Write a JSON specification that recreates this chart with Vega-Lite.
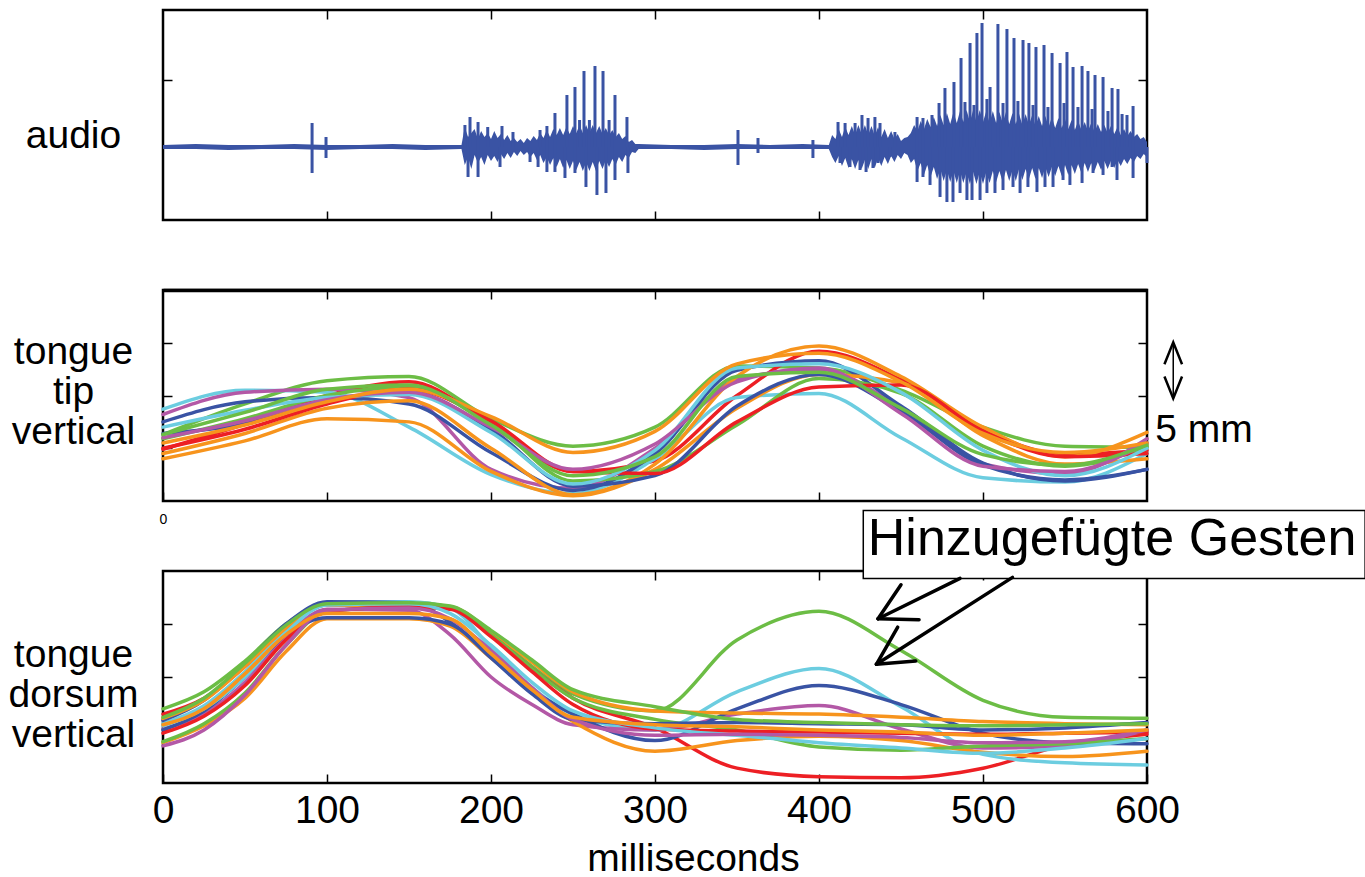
{
"$schema":"https://vega.github.io/schema/vega-lite/v6.json",
"padding":{"left":6,"top":8,"right":0,"bottom":0},
"bounds":"flush",
"spacing":70,
"config":{"font":"Liberation Sans","view":{"stroke":"black","strokeWidth":2.5},
"axis":{"grid":false,"domain":false,"tickColor":"black","tickWidth":1.5,"tickSize":-9,"labelColor":"black","titleColor":"black","titleFontWeight":"normal","titleFont":"Liberation Sans","labelFont":"Liberation Sans"}},
"datasets":{
"audioEnv":[
{"t":0,"lo":-2,"hi":2},{"t":20,"lo":-2,"hi":3},{"t":40,"lo":-3,"hi":2},{"t":60,"lo":-2,"hi":2},{"t":80,"lo":-2,"hi":3},{"t":100,"lo":-3,"hi":2},{"t":120,"lo":-2,"hi":2},{"t":140,"lo":-2,"hi":3},{"t":160,"lo":-3,"hi":2},{"t":182,"lo":-2,"hi":2},
{"t":184,"lo":-18,"hi":20},{"t":186,"lo":-10,"hi":10},{"t":188,"lo":-22,"hi":14},{"t":190,"lo":-8,"hi":18},{"t":192,"lo":-16,"hi":8},{"t":194,"lo":-10,"hi":16},{"t":196,"lo":-18,"hi":10},{"t":198,"lo":-8,"hi":14},{"t":200,"lo":-14,"hi":8},{"t":202,"lo":-9,"hi":16},{"t":204,"lo":-15,"hi":9},{"t":206,"lo":-7,"hi":13},{"t":208,"lo":-12,"hi":7},{"t":210,"lo":-6,"hi":12},{"t":212,"lo":-11,"hi":6},{"t":214,"lo":-5,"hi":9},{"t":216,"lo":-9,"hi":5},{"t":218,"lo":-4,"hi":8},{"t":220,"lo":-8,"hi":4},{"t":222,"lo":-5,"hi":9},{"t":224,"lo":-10,"hi":6},{"t":226,"lo":-6,"hi":11},{"t":228,"lo":-13,"hi":7},{"t":230,"lo":-8,"hi":14},{"t":232,"lo":-16,"hi":9},{"t":234,"lo":-10,"hi":17},{"t":236,"lo":-18,"hi":10},{"t":238,"lo":-11,"hi":18},{"t":240,"lo":-20,"hi":12},{"t":242,"lo":-12,"hi":19},{"t":244,"lo":-21,"hi":12},{"t":246,"lo":-13,"hi":20},{"t":248,"lo":-22,"hi":13},{"t":250,"lo":-14,"hi":21},{"t":252,"lo":-23,"hi":14},{"t":254,"lo":-15,"hi":22},{"t":256,"lo":-24,"hi":14},{"t":258,"lo":-15,"hi":22},{"t":260,"lo":-24,"hi":14},{"t":262,"lo":-15,"hi":22},{"t":264,"lo":-24,"hi":14},{"t":266,"lo":-14,"hi":21},{"t":268,"lo":-22,"hi":13},{"t":270,"lo":-13,"hi":19},{"t":272,"lo":-20,"hi":12},{"t":274,"lo":-12,"hi":17},{"t":276,"lo":-18,"hi":10},{"t":278,"lo":-10,"hi":14},{"t":280,"lo":-15,"hi":8},{"t":282,"lo":-8,"hi":11},{"t":284,"lo":-11,"hi":5},{"t":286,"lo":-5,"hi":7},{"t":288,"lo":-6,"hi":3},{"t":290,"lo":-2,"hi":3},
{"t":310,"lo":-2,"hi":2},{"t":330,"lo":-3,"hi":2},{"t":350,"lo":-2,"hi":3},{"t":370,"lo":-2,"hi":2},{"t":390,"lo":-2,"hi":3},{"t":406,"lo":-2,"hi":2},
{"t":408,"lo":-10,"hi":12},{"t":410,"lo":-16,"hi":8},{"t":412,"lo":-9,"hi":18},{"t":414,"lo":-19,"hi":10},{"t":416,"lo":-11,"hi":20},{"t":418,"lo":-21,"hi":12},{"t":420,"lo":-12,"hi":21},{"t":422,"lo":-22,"hi":12},{"t":424,"lo":-13,"hi":22},{"t":426,"lo":-22,"hi":13},{"t":428,"lo":-13,"hi":22},{"t":430,"lo":-22,"hi":12},{"t":432,"lo":-12,"hi":21},{"t":434,"lo":-21,"hi":11},{"t":436,"lo":-11,"hi":20},{"t":438,"lo":-19,"hi":10},{"t":440,"lo":-10,"hi":18},{"t":442,"lo":-17,"hi":9},{"t":444,"lo":-9,"hi":16},{"t":446,"lo":-15,"hi":8},{"t":448,"lo":-8,"hi":13},{"t":450,"lo":-12,"hi":6},{"t":452,"lo":-6,"hi":9},
{"t":454,"lo":-8,"hi":10},{"t":456,"lo":-16,"hi":14},{"t":458,"lo":-12,"hi":22},{"t":460,"lo":-24,"hi":16},{"t":462,"lo":-16,"hi":26},{"t":464,"lo":-28,"hi":18},{"t":466,"lo":-18,"hi":28},{"t":468,"lo":-30,"hi":20},{"t":470,"lo":-20,"hi":30},{"t":472,"lo":-32,"hi":21},{"t":474,"lo":-22,"hi":32},{"t":476,"lo":-34,"hi":22},{"t":478,"lo":-23,"hi":34},{"t":480,"lo":-35,"hi":23},{"t":482,"lo":-24,"hi":35},{"t":484,"lo":-36,"hi":24},{"t":486,"lo":-24,"hi":36},{"t":488,"lo":-36,"hi":25},{"t":490,"lo":-25,"hi":37},{"t":492,"lo":-37,"hi":25},{"t":494,"lo":-25,"hi":37},{"t":496,"lo":-37,"hi":25},{"t":498,"lo":-25,"hi":37},{"t":500,"lo":-37,"hi":25},{"t":502,"lo":-25,"hi":36},{"t":504,"lo":-36,"hi":24},{"t":506,"lo":-24,"hi":36},{"t":508,"lo":-35,"hi":24},{"t":510,"lo":-24,"hi":35},{"t":512,"lo":-35,"hi":24},{"t":514,"lo":-23,"hi":35},{"t":516,"lo":-34,"hi":23},{"t":518,"lo":-23,"hi":34},{"t":520,"lo":-34,"hi":23},{"t":522,"lo":-22,"hi":33},{"t":524,"lo":-33,"hi":22},{"t":526,"lo":-22,"hi":33},{"t":528,"lo":-32,"hi":22},{"t":530,"lo":-21,"hi":32},{"t":532,"lo":-32,"hi":21},{"t":534,"lo":-21,"hi":31},{"t":536,"lo":-31,"hi":21},{"t":538,"lo":-20,"hi":31},{"t":540,"lo":-30,"hi":20},{"t":542,"lo":-20,"hi":30},{"t":544,"lo":-29,"hi":19},{"t":546,"lo":-19,"hi":29},{"t":548,"lo":-29,"hi":19},{"t":550,"lo":-18,"hi":28},{"t":552,"lo":-28,"hi":18},{"t":554,"lo":-18,"hi":27},{"t":556,"lo":-27,"hi":17},{"t":558,"lo":-17,"hi":26},{"t":560,"lo":-26,"hi":17},{"t":562,"lo":-16,"hi":25},{"t":564,"lo":-25,"hi":16},{"t":566,"lo":-16,"hi":24},{"t":568,"lo":-24,"hi":15},{"t":570,"lo":-15,"hi":23},{"t":572,"lo":-23,"hi":15},{"t":574,"lo":-14,"hi":22},{"t":576,"lo":-22,"hi":14},{"t":578,"lo":-14,"hi":21},{"t":580,"lo":-21,"hi":13},{"t":582,"lo":-13,"hi":20},{"t":584,"lo":-19,"hi":12},{"t":586,"lo":-12,"hi":18},{"t":588,"lo":-17,"hi":11},{"t":590,"lo":-11,"hi":16},{"t":592,"lo":-15,"hi":10},{"t":594,"lo":-9,"hi":13},{"t":596,"lo":-12,"hi":8},{"t":598,"lo":-7,"hi":10},{"t":600,"lo":-10,"hi":5}],
"audioSpk":[
{"t":90.9,"a":24},{"t":90.9,"a":-26},{"t":99.4,"a":10},{"t":99.4,"a":-11},{"t":350.6,"a":17},{"t":350.6,"a":-18},{"t":362.8,"a":9},{"t":362.8,"a":-6},{"t":396.3,"a":7},{"t":396.3,"a":-11},
{"t":184.1,"a":22},{"t":187.2,"a":30},{"t":192.1,"a":25},{"t":198,"a":20},{"t":206.7,"a":21},{"t":213.4,"a":15},{"t":229.9,"a":17},{"t":234.1,"a":21},{"t":239,"a":34},{"t":246.3,"a":52},{"t":251.2,"a":60},{"t":254,"a":27},{"t":256.7,"a":76},{"t":260,"a":27},{"t":263.4,"a":81},{"t":268.3,"a":76},{"t":272,"a":27},{"t":275.6,"a":52},{"t":282.9,"a":30},
{"t":186,"a":-30},{"t":192.1,"a":-30},{"t":205.5,"a":-20},{"t":223.8,"a":-15},{"t":228.7,"a":-20},{"t":234.1,"a":-25},{"t":239,"a":-25},{"t":245.1,"a":-31},{"t":251.2,"a":-26},{"t":257.9,"a":-40},{"t":264.6,"a":-48},{"t":270.1,"a":-46},{"t":275.6,"a":-33},{"t":283.5,"a":-26},
{"t":411.6,"a":25},{"t":415.9,"a":24},{"t":422,"a":24},{"t":426.2,"a":32},{"t":429.9,"a":29},{"t":434.1,"a":30},{"t":437.2,"a":24},{"t":446.3,"a":15},
{"t":412.8,"a":-16},{"t":418.9,"a":-20},{"t":425,"a":-23},{"t":428.7,"a":-25},{"t":432.9,"a":-21},{"t":436,"a":-16},{"t":443.3,"a":-10},
{"t":459.8,"a":30},{"t":463.4,"a":29},{"t":468.9,"a":32},{"t":473.2,"a":44},{"t":476.8,"a":59},{"t":482.3,"a":65},{"t":486.6,"a":89},{"t":489,"a":45},{"t":492.1,"a":104},{"t":494.5,"a":42},{"t":496.3,"a":114},{"t":499.4,"a":124},{"t":502.4,"a":48},{"t":504.3,"a":60},{"t":509.1,"a":123},{"t":512.2,"a":44},{"t":514.6,"a":118},{"t":518.9,"a":109},{"t":521.3,"a":46},{"t":524.4,"a":107},{"t":528,"a":104},{"t":530.5,"a":42},{"t":532.3,"a":100},{"t":537.2,"a":102},{"t":539.6,"a":40},{"t":542.1,"a":94},{"t":547,"a":84},{"t":549.4,"a":44},{"t":551.2,"a":95},{"t":554.9,"a":80},{"t":557.9,"a":40},{"t":560.4,"a":81},{"t":564,"a":76},{"t":566.5,"a":38},{"t":568.3,"a":72},{"t":573.2,"a":70},{"t":576.2,"a":36},{"t":578.7,"a":59},{"t":582.3,"a":58},{"t":584.8,"a":33},{"t":587.8,"a":32},{"t":591.5,"a":41},
{"t":459.8,"a":-35},{"t":463.4,"a":-30},{"t":467.7,"a":-38},{"t":473.8,"a":-50},{"t":478,"a":-55},{"t":481.7,"a":-55},{"t":486,"a":-46},{"t":490.2,"a":-53},{"t":493.3,"a":-53},{"t":498.2,"a":-53},{"t":502.4,"a":-46},{"t":507.3,"a":-46},{"t":512.2,"a":-43},{"t":518.3,"a":-40},{"t":522.6,"a":-46},{"t":527.4,"a":-40},{"t":532.9,"a":-45},{"t":537.8,"a":-40},{"t":542.7,"a":-40},{"t":548.8,"a":-33},{"t":553,"a":-38},{"t":560.4,"a":-36},{"t":567.1,"a":-26},{"t":573.2,"a":-28},{"t":578.7,"a":-20},{"t":581.7,"a":-33},{"t":591.5,"a":-31},{"t":600,"a":-16}],
"tip":[
{"k":"T1","t":0,"v":6.3},{"k":"T1","t":50,"v":9.2},{"k":"T1","t":100,"v":11.4},{"k":"T1","t":150,"v":11.8},{"k":"T1","t":200,"v":7.8},{"k":"T1","t":250,"v":5.2},{"k":"T1","t":300,"v":7.0},{"k":"T1","t":350,"v":12.8},{"k":"T1","t":400,"v":12.6},{"k":"T1","t":450,"v":10.5},{"k":"T1","t":500,"v":7.0},{"k":"T1","t":550,"v":5.2},{"k":"T1","t":600,"v":5.1},
{"k":"T2","t":0,"v":4.9},{"k":"T2","t":50,"v":7.3},{"k":"T2","t":100,"v":10.0},{"k":"T2","t":150,"v":11.3},{"k":"T2","t":200,"v":7.3},{"k":"T2","t":250,"v":2.8},{"k":"T2","t":300,"v":3.8},{"k":"T2","t":350,"v":10.0},{"k":"T2","t":400,"v":14.2},{"k":"T2","t":450,"v":11.5},{"k":"T2","t":500,"v":6.8},{"k":"T2","t":550,"v":4.4},{"k":"T2","t":600,"v":4.8},
{"k":"T3","t":0,"v":8.7},{"k":"T3","t":50,"v":10.5},{"k":"T3","t":100,"v":10.3},{"k":"T3","t":150,"v":7.0},{"k":"T3","t":200,"v":2.5},{"k":"T3","t":250,"v":0.7},{"k":"T3","t":300,"v":4.0},{"k":"T3","t":350,"v":9.8},{"k":"T3","t":400,"v":10.2},{"k":"T3","t":450,"v":6.0},{"k":"T3","t":500,"v":2.2},{"k":"T3","t":550,"v":1.8},{"k":"T3","t":600,"v":4.5},
{"k":"T4","t":0,"v":8.2},{"k":"T4","t":50,"v":10.3},{"k":"T4","t":100,"v":10.6},{"k":"T4","t":150,"v":9.8},{"k":"T4","t":200,"v":3.0},{"k":"T4","t":250,"v":1.2},{"k":"T4","t":300,"v":5.0},{"k":"T4","t":350,"v":11.5},{"k":"T4","t":400,"v":12.5},{"k":"T4","t":450,"v":8.8},{"k":"T4","t":500,"v":3.5},{"k":"T4","t":550,"v":2.6},{"k":"T4","t":600,"v":5.9},
{"k":"T5","t":0,"v":7.5},{"k":"T5","t":50,"v":9.4},{"k":"T5","t":100,"v":9.8},{"k":"T5","t":150,"v":9.2},{"k":"T5","t":200,"v":4.6},{"k":"T5","t":250,"v":1.0},{"k":"T5","t":300,"v":4.5},{"k":"T5","t":350,"v":12.4},{"k":"T5","t":400,"v":13.3},{"k":"T5","t":450,"v":9.0},{"k":"T5","t":500,"v":3.6},{"k":"T5","t":550,"v":1.9},{"k":"T5","t":600,"v":3.0},
{"k":"T6","t":0,"v":4.0},{"k":"T6","t":50,"v":5.7},{"k":"T6","t":100,"v":7.8},{"k":"T6","t":150,"v":7.5},{"k":"T6","t":200,"v":2.8},{"k":"T6","t":250,"v":0.5},{"k":"T6","t":300,"v":3.0},{"k":"T6","t":350,"v":8.8},{"k":"T6","t":400,"v":12.0},{"k":"T6","t":450,"v":11.2},{"k":"T6","t":500,"v":6.2},{"k":"T6","t":550,"v":3.5},{"k":"T6","t":600,"v":4.0},
{"k":"T7","t":0,"v":4.5},{"k":"T7","t":50,"v":6.4},{"k":"T7","t":100,"v":8.8},{"k":"T7","t":150,"v":9.5},{"k":"T7","t":200,"v":5.0},{"k":"T7","t":250,"v":0.6},{"k":"T7","t":300,"v":3.5},{"k":"T7","t":350,"v":11.8},{"k":"T7","t":400,"v":14.7},{"k":"T7","t":450,"v":11.8},{"k":"T7","t":500,"v":7.0},{"k":"T7","t":550,"v":4.2},{"k":"T7","t":600,"v":6.5},
{"k":"T8","t":0,"v":5.9},{"k":"T8","t":50,"v":7.8},{"k":"T8","t":100,"v":10.0},{"k":"T8","t":150,"v":10.8},{"k":"T8","t":200,"v":7.5},{"k":"T8","t":250,"v":1.9},{"k":"T8","t":300,"v":2.8},{"k":"T8","t":350,"v":7.2},{"k":"T8","t":400,"v":11.6},{"k":"T8","t":450,"v":10.2},{"k":"T8","t":500,"v":5.2},{"k":"T8","t":550,"v":3.3},{"k":"T8","t":600,"v":5.1},
{"k":"T9","t":0,"v":6.4},{"k":"T9","t":50,"v":7.3},{"k":"T9","t":100,"v":9.5},{"k":"T9","t":150,"v":10.3},{"k":"T9","t":200,"v":6.8},{"k":"T9","t":250,"v":1.4},{"k":"T9","t":300,"v":2.4},{"k":"T9","t":350,"v":9.0},{"k":"T9","t":400,"v":12.0},{"k":"T9","t":450,"v":8.5},{"k":"T9","t":500,"v":3.4},{"k":"T9","t":550,"v":2.0},{"k":"T9","t":600,"v":3.0},
{"k":"T10","t":0,"v":5.0},{"k":"T10","t":50,"v":6.8},{"k":"T10","t":100,"v":9.2},{"k":"T10","t":150,"v":10.6},{"k":"T10","t":200,"v":7.6},{"k":"T10","t":250,"v":2.8},{"k":"T10","t":300,"v":2.6},{"k":"T10","t":350,"v":7.5},{"k":"T10","t":400,"v":10.8},{"k":"T10","t":450,"v":11.0},{"k":"T10","t":500,"v":6.6},{"k":"T10","t":550,"v":4.2},{"k":"T10","t":600,"v":4.5},
{"k":"T11","t":0,"v":7.0},{"k":"T11","t":50,"v":8.6},{"k":"T11","t":100,"v":9.8},{"k":"T11","t":150,"v":10.1},{"k":"T11","t":200,"v":6.5},{"k":"T11","t":250,"v":1.6},{"k":"T11","t":300,"v":4.8},{"k":"T11","t":350,"v":12.6},{"k":"T11","t":400,"v":13.0},{"k":"T11","t":450,"v":10.3},{"k":"T11","t":500,"v":4.8},{"k":"T11","t":550,"v":2.4},{"k":"T11","t":600,"v":5.0},
{"k":"T12","t":0,"v":6.0},{"k":"T12","t":50,"v":7.6},{"k":"T12","t":100,"v":9.6},{"k":"T12","t":150,"v":10.3},{"k":"T12","t":200,"v":7.0},{"k":"T12","t":250,"v":3.0},{"k":"T12","t":300,"v":5.4},{"k":"T12","t":350,"v":11.3},{"k":"T12","t":400,"v":12.6},{"k":"T12","t":450,"v":8.3},{"k":"T12","t":500,"v":3.3},{"k":"T12","t":550,"v":2.8},{"k":"T12","t":600,"v":5.5},
{"k":"T13","t":0,"v":5.5},{"k":"T13","t":50,"v":7.2},{"k":"T13","t":100,"v":9.4},{"k":"T13","t":150,"v":10.6},{"k":"T13","t":200,"v":8.0},{"k":"T13","t":250,"v":4.6},{"k":"T13","t":300,"v":6.6},{"k":"T13","t":350,"v":13.0},{"k":"T13","t":400,"v":14.0},{"k":"T13","t":450,"v":11.3},{"k":"T13","t":500,"v":6.4},{"k":"T13","t":550,"v":4.6},{"k":"T13","t":600,"v":5.5},
{"k":"T14","t":0,"v":6.3},{"k":"T14","t":50,"v":8.4},{"k":"T14","t":100,"v":10.6},{"k":"T14","t":150,"v":11.0},{"k":"T14","t":200,"v":7.2},{"k":"T14","t":250,"v":2.4},{"k":"T14","t":300,"v":4.2},{"k":"T14","t":350,"v":11.8},{"k":"T14","t":400,"v":12.2},{"k":"T14","t":450,"v":8.8},{"k":"T14","t":500,"v":4.4},{"k":"T14","t":550,"v":3.4},{"k":"T14","t":600,"v":5.3}],
"dorsum":[
{"k":"T1","t":0,"v":7.0},{"k":"T1","t":25,"v":8.6},{"k":"T1","t":50,"v":11.5},{"k":"T1","t":75,"v":15.0},{"k":"T1","t":100,"v":17.0},{"k":"T1","t":150,"v":17.0},{"k":"T1","t":175,"v":16.6},{"k":"T1","t":200,"v":14.2},{"k":"T1","t":225,"v":11.0},{"k":"T1","t":250,"v":8.4},{"k":"T1","t":300,"v":6.8},{"k":"T1","t":350,"v":13.5},{"k":"T1","t":400,"v":16.2},{"k":"T1","t":450,"v":12.5},{"k":"T1","t":500,"v":7.8},{"k":"T1","t":550,"v":6.2},{"k":"T1","t":600,"v":6.1},
{"k":"T2","t":0,"v":6.5},{"k":"T2","t":25,"v":8.0},{"k":"T2","t":50,"v":11.0},{"k":"T2","t":75,"v":14.8},{"k":"T2","t":100,"v":16.8},{"k":"T2","t":150,"v":16.6},{"k":"T2","t":175,"v":16.5},{"k":"T2","t":200,"v":14.0},{"k":"T2","t":225,"v":10.8},{"k":"T2","t":250,"v":8.0},{"k":"T2","t":300,"v":5.2},{"k":"T2","t":350,"v":1.4},{"k":"T2","t":400,"v":0.6},{"k":"T2","t":450,"v":0.5},{"k":"T2","t":500,"v":1.4},{"k":"T2","t":550,"v":3.6},{"k":"T2","t":600,"v":4.6},
{"k":"T3","t":0,"v":5.6},{"k":"T3","t":25,"v":7.3},{"k":"T3","t":50,"v":10.5},{"k":"T3","t":75,"v":14.5},{"k":"T3","t":100,"v":17.0},{"k":"T3","t":150,"v":17.1},{"k":"T3","t":175,"v":16.5},{"k":"T3","t":200,"v":12.8},{"k":"T3","t":225,"v":9.0},{"k":"T3","t":250,"v":6.5},{"k":"T3","t":300,"v":5.0},{"k":"T3","t":350,"v":8.6},{"k":"T3","t":400,"v":10.8},{"k":"T3","t":450,"v":7.2},{"k":"T3","t":500,"v":2.7},{"k":"T3","t":550,"v":1.9},{"k":"T3","t":600,"v":1.7},
{"k":"T4","t":0,"v":5.1},{"k":"T4","t":25,"v":6.5},{"k":"T4","t":50,"v":9.5},{"k":"T4","t":75,"v":13.8},{"k":"T4","t":100,"v":16.4},{"k":"T4","t":150,"v":16.3},{"k":"T4","t":175,"v":14.0},{"k":"T4","t":200,"v":10.0},{"k":"T4","t":225,"v":7.4},{"k":"T4","t":250,"v":5.5},{"k":"T4","t":300,"v":5.0},{"k":"T4","t":350,"v":6.5},{"k":"T4","t":400,"v":7.3},{"k":"T4","t":450,"v":5.1},{"k":"T4","t":500,"v":3.3},{"k":"T4","t":550,"v":3.5},{"k":"T4","t":600,"v":5.0},
{"k":"T5","t":0,"v":5.9},{"k":"T5","t":25,"v":7.8},{"k":"T5","t":50,"v":11.2},{"k":"T5","t":75,"v":15.0},{"k":"T5","t":100,"v":17.1},{"k":"T5","t":150,"v":17.0},{"k":"T5","t":175,"v":15.2},{"k":"T5","t":200,"v":12.0},{"k":"T5","t":225,"v":8.8},{"k":"T5","t":250,"v":6.5},{"k":"T5","t":300,"v":4.0},{"k":"T5","t":350,"v":7.0},{"k":"T5","t":400,"v":9.2},{"k":"T5","t":450,"v":7.4},{"k":"T5","t":500,"v":4.7},{"k":"T5","t":550,"v":3.8},{"k":"T5","t":600,"v":3.7},
{"k":"T6","t":0,"v":6.1},{"k":"T6","t":25,"v":7.8},{"k":"T6","t":50,"v":11.0},{"k":"T6","t":75,"v":14.6},{"k":"T6","t":100,"v":16.8},{"k":"T6","t":150,"v":16.7},{"k":"T6","t":175,"v":16.6},{"k":"T6","t":200,"v":14.3},{"k":"T6","t":225,"v":11.4},{"k":"T6","t":250,"v":8.6},{"k":"T6","t":300,"v":6.8},{"k":"T6","t":350,"v":6.6},{"k":"T6","t":400,"v":6.5},{"k":"T6","t":450,"v":6.2},{"k":"T6","t":500,"v":5.8},{"k":"T6","t":550,"v":5.6},{"k":"T6","t":600,"v":5.5},
{"k":"T7","t":0,"v":3.8},{"k":"T7","t":25,"v":5.4},{"k":"T7","t":50,"v":8.0},{"k":"T7","t":75,"v":12.4},{"k":"T7","t":100,"v":15.5},{"k":"T7","t":150,"v":15.5},{"k":"T7","t":175,"v":14.8},{"k":"T7","t":200,"v":11.8},{"k":"T7","t":225,"v":8.5},{"k":"T7","t":250,"v":5.8},{"k":"T7","t":300,"v":3.0},{"k":"T7","t":350,"v":4.0},{"k":"T7","t":400,"v":4.4},{"k":"T7","t":450,"v":4.0},{"k":"T7","t":500,"v":2.9},{"k":"T7","t":550,"v":2.5},{"k":"T7","t":600,"v":3.0},
{"k":"T8","t":0,"v":3.9},{"k":"T8","t":25,"v":5.6},{"k":"T8","t":50,"v":8.5},{"k":"T8","t":75,"v":13.0},{"k":"T8","t":100,"v":16.2},{"k":"T8","t":150,"v":16.6},{"k":"T8","t":175,"v":16.5},{"k":"T8","t":200,"v":14.0},{"k":"T8","t":225,"v":10.8},{"k":"T8","t":250,"v":8.0},{"k":"T8","t":300,"v":6.0},{"k":"T8","t":350,"v":5.0},{"k":"T8","t":400,"v":3.4},{"k":"T8","t":450,"v":3.1},{"k":"T8","t":500,"v":3.5},{"k":"T8","t":550,"v":3.7},{"k":"T8","t":600,"v":4.2},
{"k":"T9","t":0,"v":5.0},{"k":"T9","t":25,"v":6.8},{"k":"T9","t":50,"v":10.0},{"k":"T9","t":75,"v":14.0},{"k":"T9","t":100,"v":15.6},{"k":"T9","t":150,"v":15.6},{"k":"T9","t":175,"v":15.0},{"k":"T9","t":200,"v":11.8},{"k":"T9","t":225,"v":8.4},{"k":"T9","t":250,"v":6.0},{"k":"T9","t":300,"v":5.6},{"k":"T9","t":350,"v":5.7},{"k":"T9","t":400,"v":5.6},{"k":"T9","t":450,"v":5.5},{"k":"T9","t":500,"v":5.0},{"k":"T9","t":550,"v":5.2},{"k":"T9","t":600,"v":5.7},
{"k":"T10","t":0,"v":4.7},{"k":"T10","t":25,"v":6.3},{"k":"T10","t":50,"v":9.2},{"k":"T10","t":75,"v":13.5},{"k":"T10","t":100,"v":16.2},{"k":"T10","t":150,"v":16.6},{"k":"T10","t":175,"v":16.4},{"k":"T10","t":200,"v":13.8},{"k":"T10","t":225,"v":10.5},{"k":"T10","t":250,"v":7.4},{"k":"T10","t":300,"v":5.1},{"k":"T10","t":350,"v":4.9},{"k":"T10","t":400,"v":4.8},{"k":"T10","t":450,"v":4.7},{"k":"T10","t":500,"v":4.6},{"k":"T10","t":550,"v":4.7},{"k":"T10","t":600,"v":4.8},
{"k":"T11","t":0,"v":5.4},{"k":"T11","t":25,"v":7.0},{"k":"T11","t":50,"v":10.0},{"k":"T11","t":75,"v":14.2},{"k":"T11","t":100,"v":16.8},{"k":"T11","t":150,"v":16.9},{"k":"T11","t":175,"v":16.0},{"k":"T11","t":200,"v":13.0},{"k":"T11","t":225,"v":9.5},{"k":"T11","t":250,"v":6.8},{"k":"T11","t":300,"v":5.2},{"k":"T11","t":350,"v":4.5},{"k":"T11","t":400,"v":3.8},{"k":"T11","t":450,"v":3.3},{"k":"T11","t":500,"v":2.8},{"k":"T11","t":550,"v":3.3},{"k":"T11","t":600,"v":4.2},
{"k":"T12","t":0,"v":3.5},{"k":"T12","t":25,"v":5.0},{"k":"T12","t":50,"v":8.3},{"k":"T12","t":75,"v":13.0},{"k":"T12","t":100,"v":16.3},{"k":"T12","t":150,"v":16.5},{"k":"T12","t":175,"v":15.5},{"k":"T12","t":200,"v":12.5},{"k":"T12","t":225,"v":9.0},{"k":"T12","t":250,"v":6.0},{"k":"T12","t":300,"v":4.5},{"k":"T12","t":350,"v":4.6},{"k":"T12","t":400,"v":4.5},{"k":"T12","t":450,"v":4.3},{"k":"T12","t":500,"v":3.8},{"k":"T12","t":550,"v":3.9},{"k":"T12","t":600,"v":5.0},
{"k":"T13","t":0,"v":5.5},{"k":"T13","t":25,"v":7.0},{"k":"T13","t":50,"v":10.3},{"k":"T13","t":75,"v":14.0},{"k":"T13","t":100,"v":16.0},{"k":"T13","t":150,"v":16.0},{"k":"T13","t":175,"v":15.5},{"k":"T13","t":200,"v":12.2},{"k":"T13","t":225,"v":8.8},{"k":"T13","t":250,"v":6.2},{"k":"T13","t":300,"v":5.5},{"k":"T13","t":350,"v":5.3},{"k":"T13","t":400,"v":5.0},{"k":"T13","t":450,"v":4.8},{"k":"T13","t":500,"v":4.5},{"k":"T13","t":550,"v":4.7},{"k":"T13","t":600,"v":5.0},
{"k":"T14","t":0,"v":6.2},{"k":"T14","t":25,"v":8.0},{"k":"T14","t":50,"v":11.3},{"k":"T14","t":75,"v":14.9},{"k":"T14","t":100,"v":16.9},{"k":"T14","t":150,"v":17.0},{"k":"T14","t":175,"v":16.7},{"k":"T14","t":200,"v":14.4},{"k":"T14","t":225,"v":11.6},{"k":"T14","t":250,"v":8.8},{"k":"T14","t":300,"v":7.2},{"k":"T14","t":350,"v":6.0},{"k":"T14","t":400,"v":5.7},{"k":"T14","t":450,"v":5.5},{"k":"T14","t":500,"v":5.4},{"k":"T14","t":550,"v":5.5},{"k":"T14","t":600,"v":5.6}],
"arrows":[
{"ta":486,"va":19.3,"tb":436,"vb":15.5},{"ta":436,"va":15.5,"tb":450,"vb":18.7},{"ta":436,"va":15.5,"tb":461,"vb":15.4},
{"ta":518,"va":19.4,"tb":435,"vb":11.2},{"ta":435,"va":11.2,"tb":448,"vb":14.7},{"ta":435,"va":11.2,"tb":459,"vb":11.5}]
},
"vconcat":[
{"width":984,"height":210,
"layer":[
{"data":{"name":"audioEnv"},"mark":{"type":"area","color":"#3a53a4","interpolate":"linear"},
"encoding":{"x":{"field":"t","type":"quantitative","scale":{"domain":[0,600],"nice":false,"zero":false},"axis":{"orient":"bottom","values":[100,200,300,400,500],"labels":false,"title":null}},
"y":{"field":"hi","type":"quantitative","scale":{"domain":[-73,137],"nice":false,"zero":false},"axis":{"orient":"left","values":[0,67],"labels":false,"title":"audio","titleAngle":0,"titleAlign":"center","titleBaseline":"middle","titleX":-90,"titleY":125,"titleFontSize":39}},
"y2":{"field":"lo"}}},
{"data":{"name":"audioSpk"},"mark":{"type":"rule","color":"#3a53a4","strokeWidth":3},
"encoding":{"x":{"field":"t","type":"quantitative","axis":{"orient":"top","values":[100,200,300,400,500],"labels":false,"title":null}},
"y":{"field":"a","type":"quantitative","axis":{"orient":"right","values":[0,67],"labels":false,"title":null}},
"y2":{"datum":0}}}
],
"resolve":{"axis":{"x":"independent","y":"independent"}}},
{"width":984,"height":211,
"layer":[
{"data":{"name":"tip"},"mark":{"type":"line","strokeWidth":3.5,"interpolate":"monotone","strokeCap":"round"},
"encoding":{"x":{"field":"t","type":"quantitative","scale":{"domain":[0,600],"nice":false,"zero":false},"axis":{"orient":"bottom","values":[0,100,200,300,400,500],"labelExpr":"datum.value === 0 ? '0' : ''","labelFontSize":14,"labelPadding":20,"labelFlush":false,"title":null}},
"y":{"field":"v","type":"quantitative","scale":{"domain":[0,20],"nice":false,"zero":false},"axis":{"orient":"left","values":[5,10,15],"labels":false,"title":["tongue","tip","vertical"],"titleAngle":0,"titleAlign":"center","titleBaseline":"middle","titleX":-90,"titleY":61,"titleFontSize":39,"titleLineHeight":40}},
"color":{"field":"k","type":"nominal","legend":null,"scale":{"domain":["T1","T2","T3","T4","T5","T6","T7","T8","T9","T10","T11","T12","T13","T14"],"range":["#6cbd45","#ed1f24","#6ccde0","#b358a6","#3953a4","#f7941d","#f7941d","#6cbd45","#3953a4","#ed1f24","#6ccde0","#b358a6","#f7941d","#6cbd45"]}}}},
{"data":{"name":"tip"},"mark":{"type":"point","opacity":0},
"encoding":{"x":{"field":"t","type":"quantitative","axis":{"orient":"top","values":[100,200,300,400,500],"labels":false,"title":null,"domain":true,"domainWidth":3.5,"domainColor":"black"}},
"y":{"field":"v","type":"quantitative","axis":{"orient":"right","values":[5,10,15],"labels":false,"title":null}}}},
{"data":{"values":[{}]},"mark":{"type":"text","text":"5 mm","fontSize":39,"align":"left","baseline":"alphabetic","color":"black"},
"encoding":{"x":{"datum":605,"type":"quantitative","axis":null},"y":{"datum":5.6,"type":"quantitative","axis":null}}},
{"data":{"values":[{}]},"mark":{"type":"rule","color":"black","strokeWidth":1.5},
"encoding":{"x":{"datum":616,"type":"quantitative","axis":null},"y":{"datum":15.0,"type":"quantitative","axis":null},"y2":{"datum":9.7}}},
{"data":{"values":[{}]},"mark":{"type":"point","shape":"M-0.8,1L0,-1L0.8,1","size":484,"filled":false,"stroke":"black","strokeWidth":2.5,"opacity":1},
"encoding":{"x":{"datum":616,"type":"quantitative","axis":null},"y":{"datum":14.0,"type":"quantitative","axis":null}}},
{"data":{"values":[{}]},"mark":{"type":"point","shape":"M-0.8,-1L0,1L0.8,-1","size":484,"filled":false,"stroke":"black","strokeWidth":2.5,"opacity":1},
"encoding":{"x":{"datum":616,"type":"quantitative","axis":null},"y":{"datum":10.76,"type":"quantitative","axis":null}}}
],
"resolve":{"axis":{"x":"independent","y":"independent"}}},
{"width":984,"height":212,
"layer":[
{"data":{"name":"dorsum"},"mark":{"type":"line","strokeWidth":3.5,"interpolate":"monotone","strokeCap":"round"},
"encoding":{"x":{"field":"t","type":"quantitative","scale":{"domain":[0,600],"nice":false,"zero":false},"axis":{"orient":"bottom","values":[0,100,200,300,400,500,600],"labelFontSize":39,"labelPadding":17,"labelFlush":false,"labelOverlap":false,"title":"milliseconds","titleFontSize":39,"titleAlign":"center","titleBaseline":"alphabetic","titleX":530,"titleY":87}},
"y":{"field":"v","type":"quantitative","scale":{"domain":[0,20],"nice":false,"zero":false},"axis":{"orient":"left","values":[5,10,15],"labels":false,"title":["tongue","dorsum","vertical"],"titleAngle":0,"titleAlign":"center","titleBaseline":"middle","titleX":-90,"titleY":83,"titleFontSize":39,"titleLineHeight":40}},
"color":{"field":"k","type":"nominal","legend":null,"scale":{"domain":["T1","T2","T3","T4","T5","T6","T7","T8","T9","T10","T11","T12","T13","T14"],"range":["#6cbd45","#ed1f24","#6ccde0","#b358a6","#3953a4","#f7941d","#f7941d","#6cbd45","#3953a4","#ed1f24","#6ccde0","#b358a6","#f7941d","#6cbd45"]}}}},
{"data":{"name":"dorsum"},"mark":{"type":"point","opacity":0},
"encoding":{"x":{"field":"t","type":"quantitative","axis":{"orient":"top","values":[100,200,300,400,500],"labels":false,"title":null}},
"y":{"field":"v","type":"quantitative","axis":{"orient":"right","values":[5,10,15],"labels":false,"title":null}}}},
{"data":{"values":[{}]},"mark":{"type":"rect","fill":"white","stroke":"black","strokeWidth":1.5},
"encoding":{"x":{"datum":427,"type":"quantitative","axis":null},"x2":{"datum":733},"y":{"datum":25.7,"type":"quantitative","axis":null},"y2":{"datum":19.3}}},
{"data":{"values":[{}]},"mark":{"type":"text","text":"Hinzugefügte Gesten","fontSize":52,"align":"center","baseline":"alphabetic","color":"black"},
"encoding":{"x":{"datum":578.7,"type":"quantitative","axis":null},"y":{"datum":21.5,"type":"quantitative","axis":null}}},
{"data":{"name":"arrows"},"mark":{"type":"rule","color":"black","strokeWidth":3.5,"strokeCap":"round"},
"encoding":{"x":{"field":"ta","type":"quantitative","axis":null},"y":{"field":"va","type":"quantitative","axis":null},"x2":{"field":"tb"},"y2":{"field":"vb"}}}
],
"resolve":{"axis":{"x":"independent","y":"independent"}}}
]
}
